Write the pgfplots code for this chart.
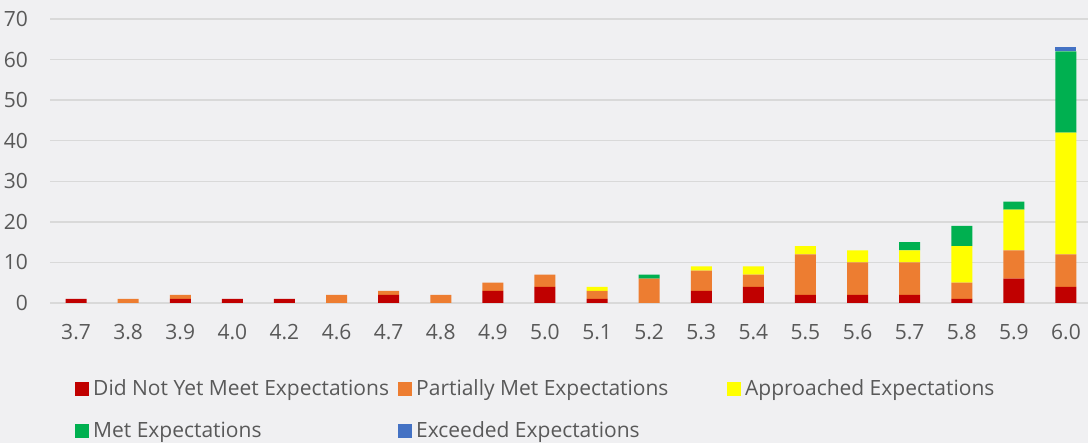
\documentclass[border=0pt]{standalone}
\usepackage{pgfplots}
\pgfplotsset{compat=1.18}
\usepackage{pgfplotstable}
\usepackage{fontspec}
\setmainfont{Open Sans}
\definecolor{bgc}{HTML}{F0F0F2}
\definecolor{gridc}{HTML}{D9D9D9}
\definecolor{txtc}{HTML}{595959}
\definecolor{cred}{HTML}{C00000}
\definecolor{corange}{HTML}{ED7D31}
\definecolor{cyellow}{HTML}{FFFF00}
\definecolor{cgreen}{HTML}{00B050}
\definecolor{cblue}{HTML}{4472C4}
\pgfplotstableread{
x red orange yellow green blue
0 1 0 0 0 0
1 0 1 0 0 0
2 1 1 0 0 0
3 1 0 0 0 0
4 1 0 0 0 0
5 0 2 0 0 0
6 2 1 0 0 0
7 0 2 0 0 0
8 3 2 0 0 0
9 4 3 0 0 0
10 1 2 1 0 0
11 0 6 0 1 0
12 3 5 1 0 0
13 4 3 2 0 0
14 2 10 2 0 0
15 2 8 3 0 0
16 2 8 3 2 0
17 1 4 9 5 0
18 6 7 10 2 0
19 4 8 30 20 1
}\datatable
\newcommand{\lfont}{\fontsize{21bp}{25bp}\selectfont}
\begin{document}
\begin{tikzpicture}
\fill[bgc] (0,0) rectangle (1088bp,443bp);
\useasboundingbox (0,0) rectangle (1088bp,443bp);
\begin{axis}[
  at={(50bp,140bp)}, anchor=south west,
  scale only axis, width=1042bp, height=284bp,
  xmin=-0.5, xmax=19.5, ymin=0, ymax=70,
  ybar stacked, bar width=21bp,
  xtick={0,...,19},
  xticklabels={3.7,3.8,3.9,4.0,4.2,4.6,4.7,4.8,4.9,5.0,5.1,5.2,5.3,5.4,5.5,5.6,5.7,5.8,5.9,6.0},
  ytick={0,10,...,70},
  ymajorgrids, grid style={gridc, line width=1.3bp},
  axis line style={draw=none},
  major tick length=0pt,
  tick label style={font=\lfont, text=txtc},
  /pgf/number format/assume math mode=true,
  yticklabel style={inner sep=0pt, xshift=-22bp},
  xticklabel style={inner sep=0pt, yshift=-21bp},
  legend columns=3,
  legend style={at={(0.024,-0.27)}, anchor=north west, draw=none, fill=none,
    inner sep=0pt, font=\lfont, text=txtc,
    nodes={inner sep=0pt},
    /tikz/every odd column/.append style={column sep=4bp},
    row sep=24.5bp},
  legend image code/.code={\fill[#1] (0bp,-7bp) rectangle (14bp,7bp);},
]
\addplot[fill=cred, draw=none] table[x=x,y=red]{\datatable};
\addlegendentry{\makebox[305bp][l]{Did Not Yet Meet Expectations}}
\addplot[fill=corange, draw=none] table[x=x,y=orange]{\datatable};
\addlegendentry{\makebox[311bp][l]{Partially Met Expectations}}
\addplot[fill=cyellow, draw=none] table[x=x,y=yellow]{\datatable};
\addlegendentry{Approached Expectations}
\addplot[fill=cgreen, draw=none] table[x=x,y=green]{\datatable};
\addlegendentry{\makebox[305bp][l]{Met Expectations}}
\addplot[fill=cblue, draw=none] table[x=x,y=blue]{\datatable};
\addlegendentry{\makebox[311bp][l]{Exceeded Expectations}}
\end{axis}
\end{tikzpicture}
\end{document}
